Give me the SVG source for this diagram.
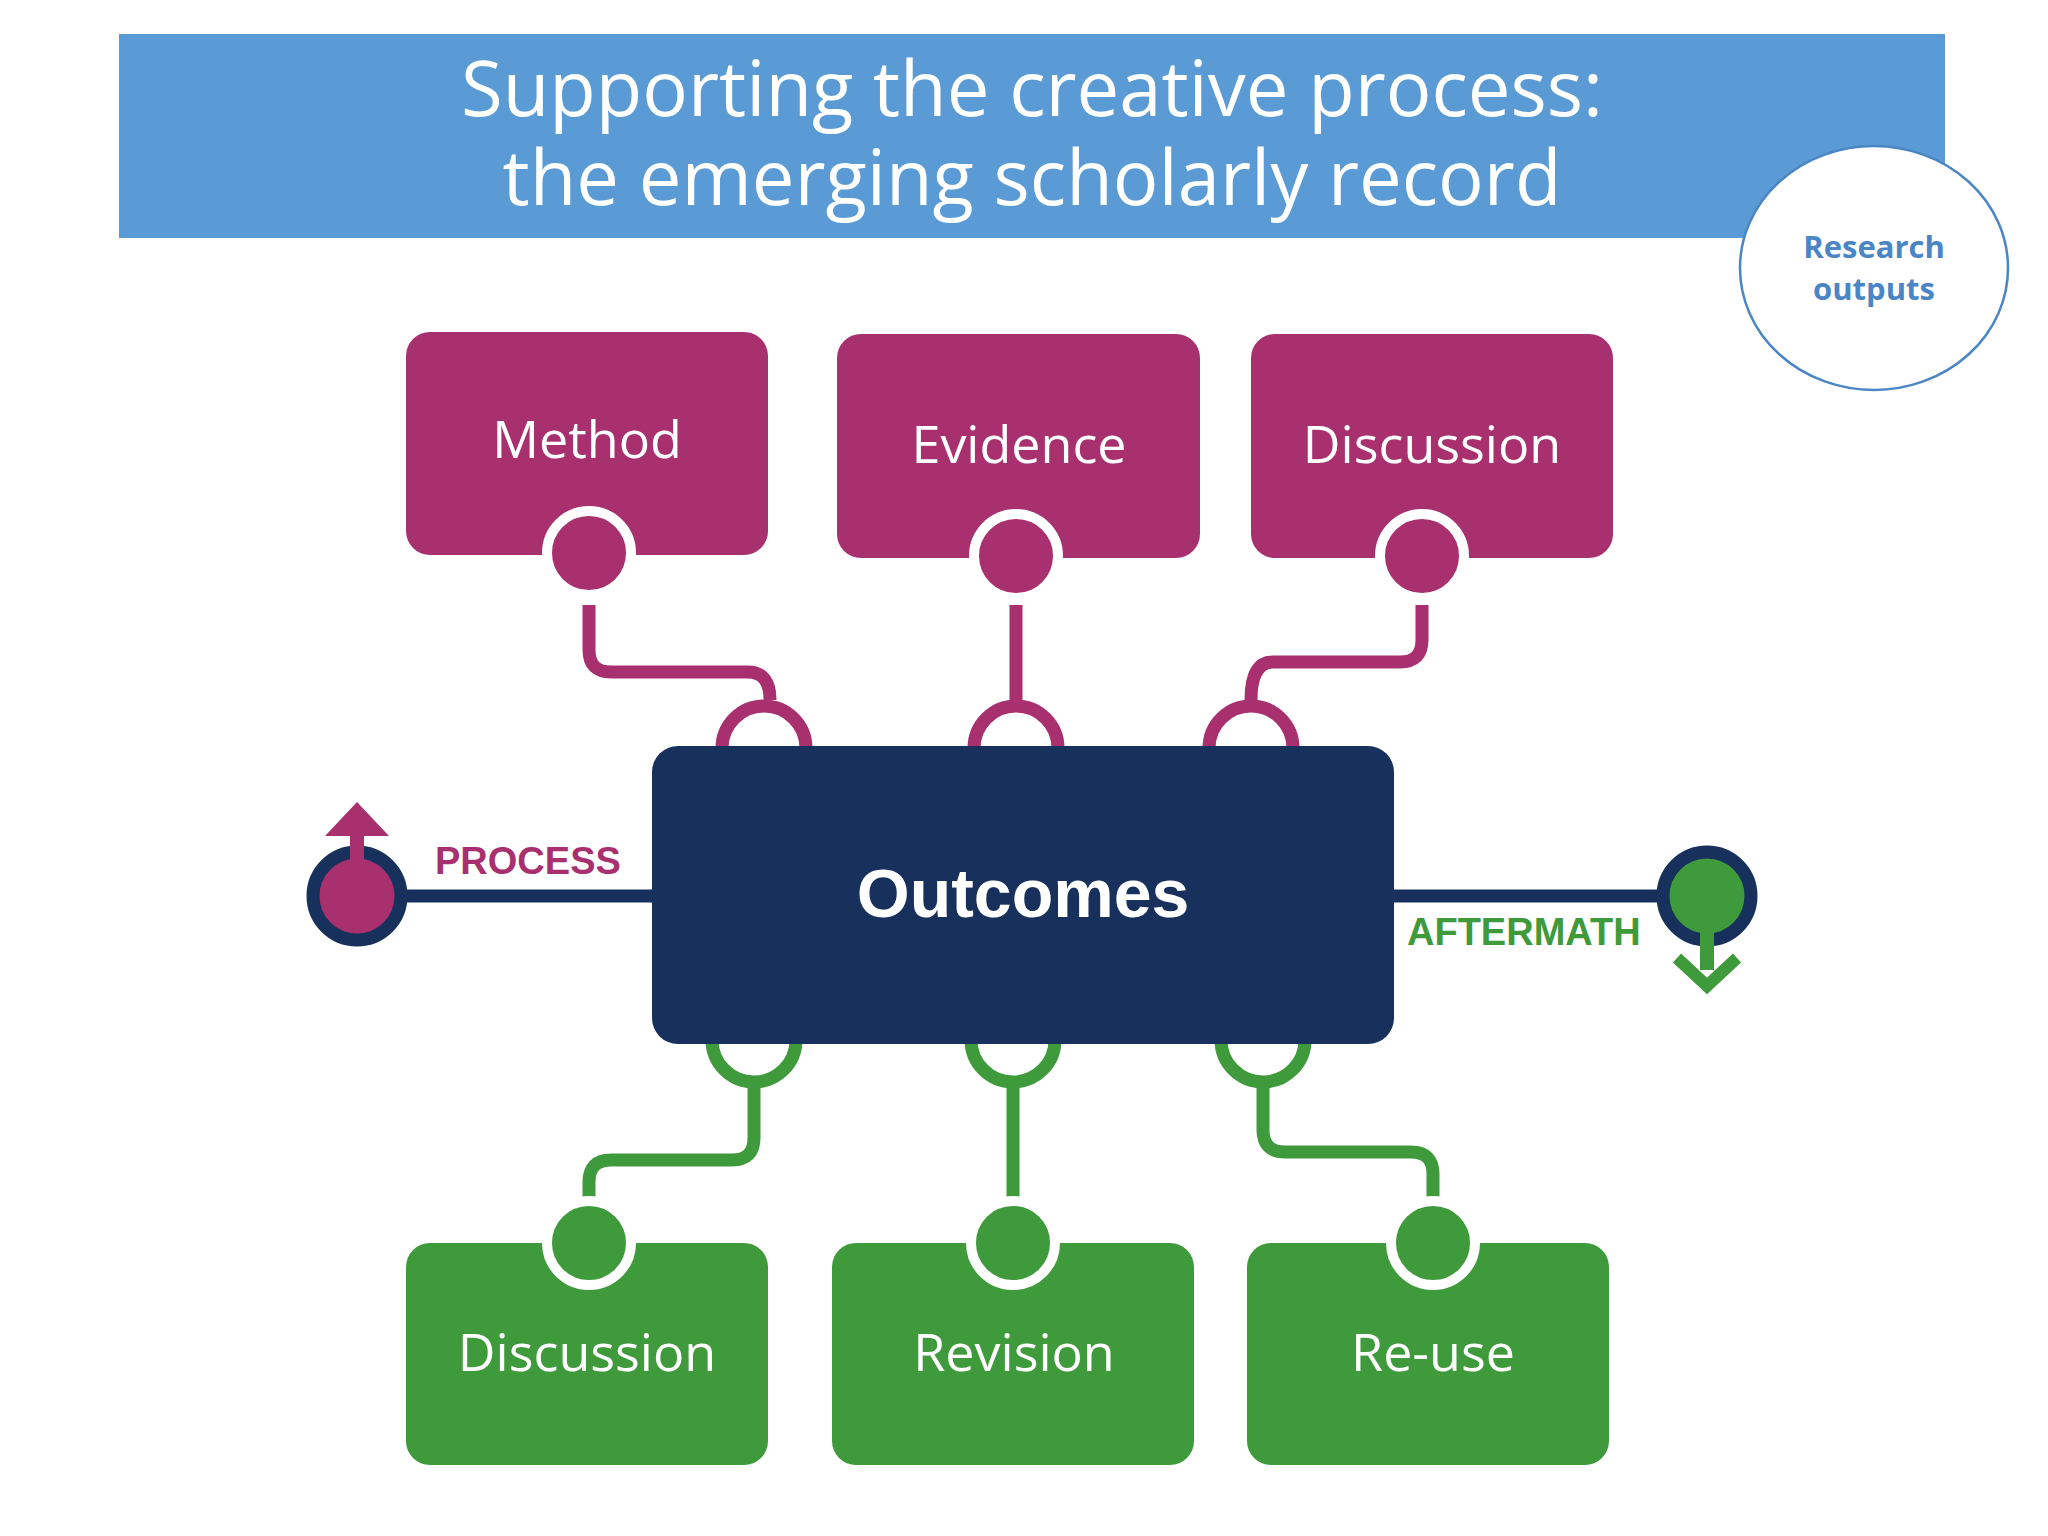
<svg xmlns="http://www.w3.org/2000/svg" width="2048" height="1536" viewBox="0 0 2048 1536">
<style>
.lbl{font-family:"Open Sans","Noto Sans",sans-serif;font-size:52px;fill:#fff;text-anchor:middle}
.mg{fill:#a8306e}.gr{fill:#3f9a3c}
.ml{fill:none;stroke:#a8306e;stroke-width:13;stroke-linecap:butt}
.gl{fill:none;stroke:#3f9a3c;stroke-width:13}
.ring{stroke:#fff;stroke-width:10}
.tag{font-family:"Liberation Sans",Arial,sans-serif;font-weight:bold;font-size:38px}
</style>
<rect width="2048" height="1536" fill="#fff"/>
<g id="title">
<rect x="119" y="34" width="1826" height="204" fill="#5b9bd5"/>
<text x="1032" y="116" font-family="Open Sans, Noto Sans, sans-serif" font-size="76" fill="#fff" text-anchor="middle">Supporting the creative process:</text>
<text x="1032" y="205" font-family="Open Sans, Noto Sans, sans-serif" font-size="76" fill="#fff" text-anchor="middle">the emerging scholarly record</text>
</g>
<g id="research-outputs">
<ellipse cx="1874" cy="268" rx="134" ry="122" fill="#fff" stroke="#4a86c5" stroke-width="2.5"/>
<text x="1874" y="258" font-family="Open Sans, Noto Sans, sans-serif" font-weight="bold" font-size="31" fill="#4a86c5" text-anchor="middle">Research</text>
<text x="1874" y="300" font-family="Open Sans, Noto Sans, sans-serif" font-weight="bold" font-size="31" fill="#4a86c5" text-anchor="middle">outputs</text>
</g>
<g id="connectors">
<path class="ml" d="M589,605 V650 Q589,672 611,672 H748 Q770,672 770,700"/>
<path class="ml" d="M1016,605 V705"/>
<path class="ml" d="M1422,605 V640 Q1422,662 1400,662 H1273 Q1251,662 1251,700"/>
<path class="ml" d="M722,748 A42,42 0 0 1 806,748"/>
<path class="ml" d="M974,748 A42,42 0 0 1 1058,748"/>
<path class="ml" d="M1209,748 A42,42 0 0 1 1293,748"/>
<path class="gl" d="M712,1040 A42,42 0 0 0 796,1040"/>
<path class="gl" d="M971,1040 A42,42 0 0 0 1055,1040"/>
<path class="gl" d="M1221,1040 A42,42 0 0 0 1305,1040"/>
<path class="gl" d="M754,1086 V1138 Q754,1160 732,1160 H611 Q589,1160 589,1182 V1215"/>
<path class="gl" d="M1013,1086 V1215"/>
<path class="gl" d="M1263,1086 V1130 Q1263,1152 1285,1152 H1411 Q1433,1152 1433,1174 V1200"/>
<path d="M359,896 H652" stroke="#17305c" stroke-width="13"/>
<path d="M1394,896 H1705" stroke="#17305c" stroke-width="13"/>
</g>
<g id="outcomes">
<rect x="652" y="746" width="742" height="298" rx="26" fill="#17305c"/>
<text x="1023" y="917" font-family="Liberation Sans, Arial, sans-serif" font-weight="bold" font-size="68" fill="#fff" text-anchor="middle">Outcomes</text>
</g>
<g id="process">
<circle cx="357" cy="896" r="44" fill="#a8306e" stroke="#17305c" stroke-width="13"/>
<path d="M357,890 V820" stroke="#a8306e" stroke-width="14"/>
<polygon points="357,802 389,836 325,836" fill="#a8306e"/>
<text x="435" y="874" class="tag" fill="#a8306e">PROCESS</text>
</g>
<g id="aftermath">
<circle cx="1707" cy="896" r="44" fill="#3f9a3c" stroke="#17305c" stroke-width="13"/>
<path d="M1707,902 V970" stroke="#3f9a3c" stroke-width="14"/>
<path d="M1677,958 L1707,986 L1737,958" fill="none" stroke="#3f9a3c" stroke-width="12"/>
<text x="1407" y="945" class="tag" fill="#3f9a3c">AFTERMATH</text>
</g>
<g id="method">
<rect class="mg" x="406" y="332" width="362" height="223" rx="24"/>
<circle class="mg ring" cx="589" cy="553" r="42"/>
<text class="lbl" x="587" y="458">Method</text>
</g>
<g id="evidence">
<rect class="mg" x="837" y="334" width="363" height="224" rx="24"/>
<circle class="mg ring" cx="1016" cy="556" r="42"/>
<text class="lbl" x="1019" y="463">Evidence</text>
</g>
<g id="discussion-top">
<rect class="mg" x="1251" y="334" width="362" height="224" rx="24"/>
<circle class="mg ring" cx="1422" cy="556" r="42"/>
<text class="lbl" x="1432" y="463">Discussion</text>
</g>
<g id="discussion-bottom">
<rect class="gr" x="406" y="1243" width="362" height="222" rx="24"/>
<circle class="gr ring" cx="589" cy="1243" r="42"/>
<text class="lbl" x="587" y="1371">Discussion</text>
</g>
<g id="revision">
<rect class="gr" x="832" y="1243" width="362" height="222" rx="24"/>
<circle class="gr ring" cx="1013" cy="1243" r="42"/>
<text class="lbl" x="1014" y="1371">Revision</text>
</g>
<g id="reuse">
<rect class="gr" x="1247" y="1243" width="362" height="222" rx="24"/>
<circle class="gr ring" cx="1433" cy="1243" r="42"/>
<text class="lbl" x="1433" y="1371">Re-use</text>
</g>
</svg>
